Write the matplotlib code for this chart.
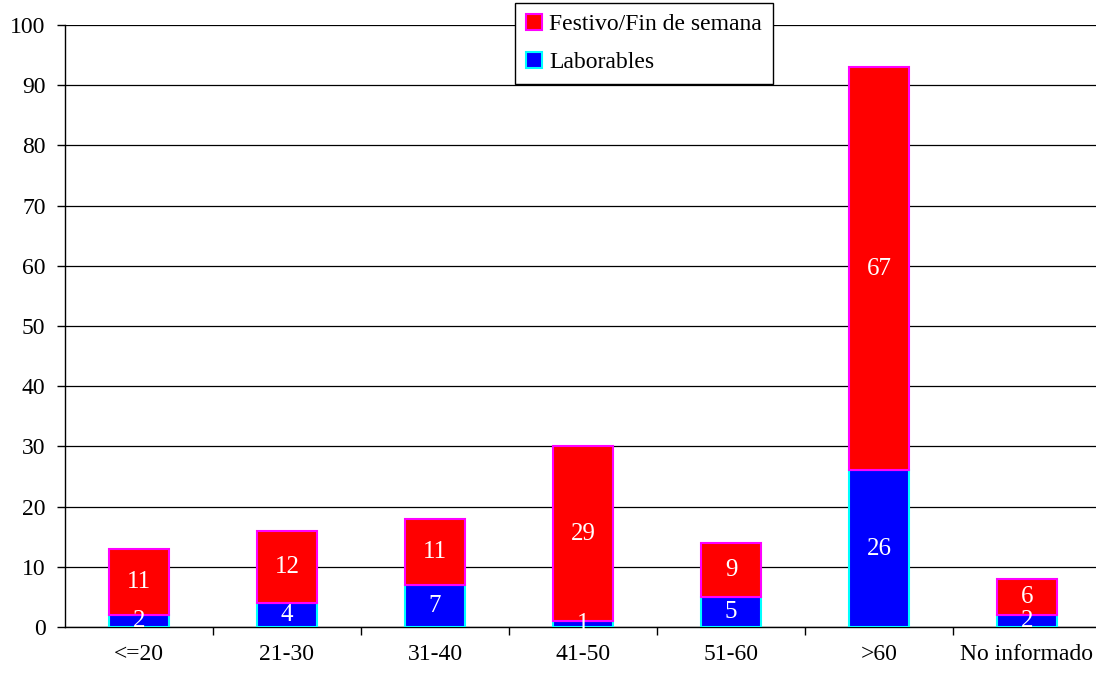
import numpy as np
import matplotlib.pyplot as plt
from matplotlib.patches import Patch

categories = ['<=20', '21-30', '31-40', '41-50', '51-60', '>60', 'No informado']
laborables = [2, 4, 7, 1, 5, 26, 2]
festivo = [11, 12, 11, 29, 9, 67, 6]

plt.rcParams['font.family'] = ['Liberation Serif', 'DejaVu Serif']

fig = plt.figure(figsize=(10.96, 6.76), dpi=100)
ax = fig.add_axes([65 / 1096, 1 - 627 / 676, 1036 / 1096, 602 / 676])

x = np.arange(len(categories))
w = 0.4
ax.bar(x, laborables, w, color='#0000ff', edgecolor='#00ffff', linewidth=1.5, zorder=3)
ax.bar(x, festivo, w, bottom=laborables, color='#ff0000', edgecolor='#ff00ff',
       linewidth=1.5, zorder=3)

# white value labels in the middle of each segment
for i in range(len(x)):
    ax.text(x[i], laborables[i] / 2, str(laborables[i]), color='white', fontsize=18,
            ha='center', va='center', zorder=4)
    ax.text(x[i], laborables[i] + festivo[i] / 2, str(festivo[i]), color='white',
            fontsize=18, ha='center', va='center', zorder=4)

ax.set_xlim(-0.5, len(categories) - 0.5)
ax.set_ylim(0, 100)
ax.set_yticks(np.arange(0, 101, 10))
ax.yaxis.grid(True, color='black', linewidth=0.9, zorder=0)
ax.set_axisbelow(True)

ax.set_xticks(x)
ax.set_xticklabels(categories, fontsize=17)
ax.tick_params(axis='x', which='major', length=0, pad=12)
ax.set_xticks(np.arange(0.5, len(categories) - 0.5, 1), minor=True)
ax.tick_params(axis='x', which='minor', length=6, width=1)
ax.tick_params(axis='y', labelsize=17, length=6, width=1, pad=8, colors='black')

ax.spines['top'].set_visible(False)
ax.spines['right'].set_visible(False)
ax.spines['left'].set_linewidth(1)
ax.spines['bottom'].set_linewidth(1)

handles = [Patch(facecolor='#ff0000', edgecolor='#ff00ff', linewidth=1.5),
           Patch(facecolor='#0000ff', edgecolor='#00ffff', linewidth=1.5)]
leg = fig.legend(handles, ['Festivo/Fin de semana', 'Laborables'],
                 loc='upper left', bbox_to_anchor=(515 / 1096, 1 - 3 / 676),
                 fontsize=17, frameon=True, fancybox=False, edgecolor='black',
                 framealpha=1, handlelength=0.7, handleheight=0.7, handletextpad=0.3,
                 borderpad=0.45, labelspacing=0.7, borderaxespad=0)
leg.get_frame().set_linewidth(1)

fig.savefig('out.png', dpi=100)
